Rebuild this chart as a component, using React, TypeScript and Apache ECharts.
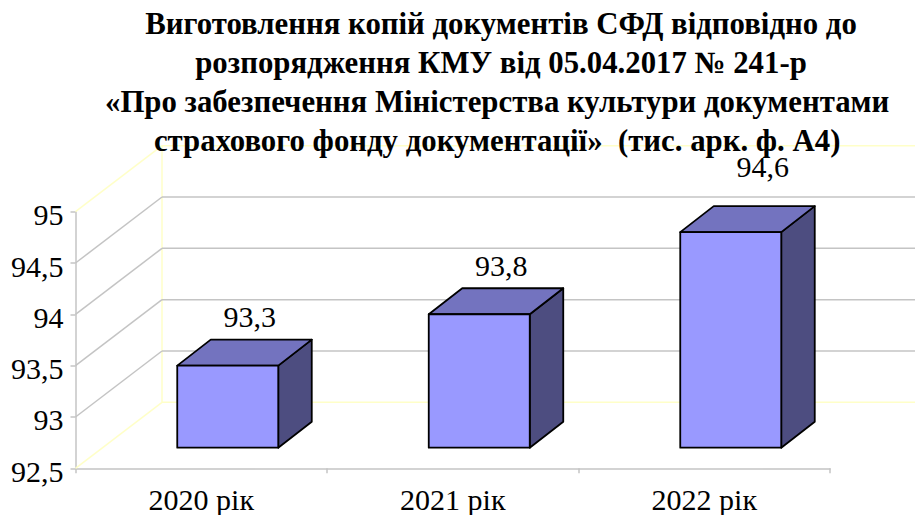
import React, { useEffect, useRef } from "react";
import * as echarts from "echarts";

const titleLines = [
  "Виготовлення копій документів СФД відповідно до",
  "розпорядження КМУ від 05.04.2017 № 241-р",
  "«Про забезпечення Міністерства культури документами ",
  "страхового фонду документації»  (тис. арк. ф. А4) ",
];
const categories = ["2020 рік", "2021 рік", "2022 рік"];
const values = [93.3, 93.8, 94.6];
const yTicks = [92.5, 93, 93.5, 94, 94.5, 95];

const FONT = "'Liberation Serif', 'Times New Roman', serif";
const GRAY = "#c4c4c4";
const YELLOW = "#ffffc8";
const wallDx = 86.5;
const wallDy = 66;
const barDx = 26.5;
const barDy = 20.6;
const barW = 101;
const depthX = 33.5;
const depthY = 26;
const labelShift = [
  [0, 0],
  [0, 0],
  [10, -17],
];

const comma = (v: number) => String(v).replace(".", ",");

export default function App() {
  const ref = useRef<HTMLDivElement>(null);
  useEffect(() => {
    const chart = echarts.init(ref.current!, undefined, { renderer: "svg" });
    chart.setOption({
      animation: false,
      backgroundColor: "#ffffff",
      title: {
        text: titleLines.join("\n"),
        left: 496,
        top: -1,
        textAlign: "center",
        textStyle: {
          fontFamily: FONT,
          fontWeight: "bold",
          fontSize: 30.8,
          lineHeight: 39,
          color: "#000",
        },
      },
      grid: { left: 75.5, right: 85, top: 211.7, bottom: 46.7, containLabel: false },
      xAxis: {
        type: "category",
        data: categories,
        axisLine: { lineStyle: { color: GRAY, width: 1.5 } },
        axisTick: { show: true, length: 5, lineStyle: { color: GRAY, width: 1.5 } },
        axisLabel: { fontFamily: FONT, fontSize: 30, color: "#000", margin: 16 },
        splitLine: { show: false },
      },
      yAxis: {
        type: "value",
        min: 92.5,
        max: 95,
        interval: 0.5,
        axisLine: { show: true, lineStyle: { color: GRAY, width: 1.5 } },
        axisTick: { show: true, length: 5, lineStyle: { color: GRAY, width: 1.5 } },
        axisLabel: {
          fontFamily: FONT,
          fontSize: 30,
          color: "#000",
          margin: 12,
          verticalAlign: "top",
          lineHeight: 6,
          formatter: (v: number) => comma(v),
        },
        splitLine: { show: false },
      },
      series: [
        {
          type: "custom",
          name: "walls",
          z: 1,
          silent: true,
          data: yTicks.map((t) => [0, t]),
          renderItem: (_p: any, api: any) => {
            const t = api.value(1);
            const x0 = (_p.coordSys as any).x;
            const x1 = x0 + (_p.coordSys as any).width;
            const y = api.coord([0, t])[1];
            const edge = t === yTicks[0] || t === yTicks[yTicks.length - 1];
            const color = edge ? YELLOW : GRAY;
            const width = 1.5;
            const children: any[] = [
              {
                type: "line",
                shape: { x1: x0, y1: y, x2: x0 + wallDx, y2: y - wallDy },
                style: { stroke: color, lineWidth: width },
              },
              {
                type: "line",
                shape: { x1: x0 + wallDx, y1: y - wallDy, x2: x1 + wallDx, y2: y - wallDy },
                style: { stroke: color, lineWidth: width },
              },
            ];
            if (t === yTicks[0]) {
              const top = api.coord([0, yTicks[yTicks.length - 1]])[1];
              children.unshift({
                type: "line",
                shape: { x1: x0 + wallDx, y1: y - wallDy, x2: x0 + wallDx, y2: top - wallDy },
                style: { stroke: YELLOW, lineWidth: width },
              });
            }
            return { type: "group", children };
          },
        },
        {
          type: "custom",
          name: "values",
          z: 3,
          data: values.map((v, i) => [i, v]),
          renderItem: (p: any, api: any) => {
            const i = api.value(0);
            const v = api.value(1);
            const [cx, yTop0] = api.coord([i, v]);
            const yBot0 = api.coord([i, yTicks[0]])[1];
            const l = cx + barDx - barW / 2;
            const r = l + barW;
            const t = yTop0 - barDy;
            const b = yBot0 - barDy;
            const stroke = { stroke: "#000", lineWidth: 1.8, lineJoin: "round" };
            const [sx, sy] = labelShift[p.dataIndex];
            return {
              type: "group",
              children: [
                {
                  type: "polygon",
                  shape: { points: [[r, t], [r + depthX, t - depthY], [r + depthX, b - depthY], [r, b]] },
                  style: { fill: "#4d4d80", ...stroke },
                },
                {
                  type: "polygon",
                  shape: { points: [[l, t], [l + depthX, t - depthY], [r + depthX, t - depthY], [r, t]] },
                  style: { fill: "#7373bf", ...stroke },
                },
                {
                  type: "rect",
                  shape: { x: l, y: t, width: barW, height: b - t },
                  style: { fill: "#9999ff", ...stroke },
                },
                {
                  type: "text",
                  x: cx + barDx + 22 + sx,
                  y: t - 49 + sy,
                  style: {
                    text: comma(v),
                    fontFamily: FONT,
                    fontSize: 30,
                    fill: "#000",
                    align: "center",
                    verticalAlign: "middle",
                  },
                },
              ],
            };
          },
        },
      ],
    });
    return () => chart.dispose();
  }, []);
  return <div ref={ref} style={{ position: "absolute", left: 0, top: 0, width: 915, height: 515 }} />;
}
